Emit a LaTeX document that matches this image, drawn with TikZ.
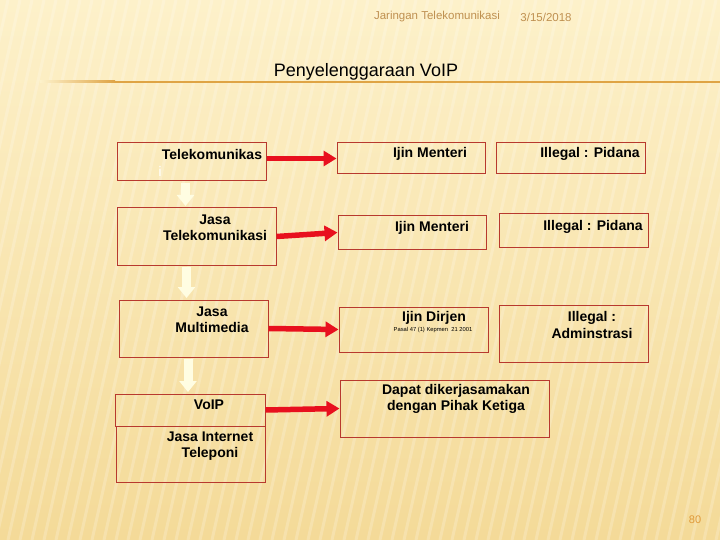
\documentclass[tikz,border=0pt]{standalone}
\usepackage{fontspec}
\setmainfont{Liberation Sans}
\usetikzlibrary{positioning,arrows.meta}
\definecolor{bgtop}{HTML}{FDF1CA}
\definecolor{bgbot}{HTML}{F4DA98}
\definecolor{boxred}{HTML}{B8392E}
\definecolor{arrred}{HTML}{E8101E}
\definecolor{pale}{HTML}{FFFDE2}
\definecolor{gold}{HTML}{DFA445}
\definecolor{hdr}{HTML}{BF9050}
\definecolor{pgno}{HTML}{E09A3A}

\begin{document}
\begin{tikzpicture}[x=1pt, y=-1pt,
                    box/.style={draw=boxred, line width=1pt, inner sep=0pt},
                    lbl/.style={font=\fontsize{14}{16.5}\selectfont\bfseries, align=center, inner sep=0pt},
                    small/.style={font=\fontsize{5.8}{6}\selectfont, inner sep=0pt},
                    rarr/.style={arrred, line width=5.5pt, -{Triangle[length=13pt,width=15pt]}},
                    varr/.style={pale, line width=9pt, shorten <=1.5pt, shorten >=1.5pt,
                                 -{Triangle[length=11pt,width=17pt]}}]
  \useasboundingbox (0,0) rectangle (720,540);
  \shade[top color=bgtop, bottom color=bgbot] (0,0) rectangle (720,540);
  \begin{scope}
    \clip (0,0) rectangle (720,540);
    \foreach \s in {-160,-148,...,720}
      \draw[white, opacity=0.2, line width=3pt] (\s,540) -- (\s+120,0);
  \end{scope}
  % header
  \node[font=\fontsize{11.5}{13}\selectfont, text=hdr] (hdrname) at (437,17) {Jaringan Telekomunikasi};
  \node[font=\fontsize{11.5}{13}\selectfont, text=hdr] (hdrdate) at (546,17) {3/15/2018};
  \node[font=\fontsize{18}{21}\selectfont] (title) at (366,72) {Penyelenggaraan VoIP};
  \shade[left color=bgtop, right color=gold] (40,81) rectangle (115,83);
  \fill[gold] (115,81) rectangle (720,83);
  \node[font=\fontsize{11}{12}\selectfont, text=pgno] (pgno) at (695,520) {80};
  % left column
  \node[box, minimum width=149, minimum height=38] (b1) at (191.5,162) {};
  \node[box, minimum width=159, minimum height=57] (b2) at (196.5,236.5) {};
  \node[box, minimum width=149, minimum height=57] (b3) at (193.5,328.5) {};
  \node[box, minimum width=150, minimum height=32] (b4) at (190,410) {};
  \node[box, minimum width=149, minimum height=56] (b5) at (190.5,454) {};
  \node[lbl] (t1) at (212,154) {Telekomunikas};
  \node[lbl, text=white!60!bgtop] (t1i) at (160,171) {i};
  \node[lbl] (t2) at (215,228) {Jasa\\Telekomunikasi};
  \node[lbl] (t3) at (212,320) {Jasa\\Multimedia};
  \node[lbl] (t4) at (209,405) {VoIP};
  \node[lbl] (t5) at (210,446) {Jasa Internet\\Teleponi};
  % middle column
  \node[box, minimum width=148, minimum height=31] (m1) at (411,158.5) {};
  \node[box, minimum width=148, minimum height=33] (m2) at (412,232.5) {};
  \node[box, minimum width=149, minimum height=45] (m3) at (413.5,329.5) {};
  \node[box, minimum width=209, minimum height=57] (m4) at (444.5,408.5) {};
  \node[lbl] (tm1) at (430,154) {Ijin Menteri};
  \node[lbl] (tm2) at (432,228) {Ijin Menteri};
  \node[lbl] (tm3) at (434,318) {Ijin Dirjen};
  \node[small] (tm3s) at (433,330) {Pasal 47 (1) Kepmen\ \ 21 2001};
  \node[lbl] (tm4) at (456,399) {Dapat dikerjasamakan\\dengan Pihak Ketiga};
  % right column
  \node[box, minimum width=149, minimum height=31] (r1) at (570.5,158.5) {};
  \node[box, minimum width=149, minimum height=33] (r2) at (573.5,230.5) {};
  \node[box, minimum width=149, minimum height=57] (r3) at (573.5,333.5) {};
  \node[lbl] (tr1) at (590,154) {Illegal : Pidana};
  \node[lbl] (tr2) at (593,227) {Illegal : Pidana};
  \node[lbl] (tr3) at (592,325) {Illegal :\\Adminstrasi};
  % arrows
  \draw[varr] ([xshift=-6]b1.south) -- ([xshift=-6]b1.south |- b2.north);
  \draw[varr] ([xshift=-10]b2.south) -- ([xshift=-10]b2.south |- b3.north);
  \draw[varr] ([xshift=-5.5]b3.south) -- ([xshift=-5.5]b3.south |- b4.north);
  \draw[rarr] (b1.east |- m1.west) -- (m1.west);
  \draw[rarr] (b2.east) -- (m2.west);
  \draw[rarr] (b3.east) -- (m3.west);
  \draw[rarr] (b4.east) -- (m4.west);
\end{tikzpicture}
\end{document}
